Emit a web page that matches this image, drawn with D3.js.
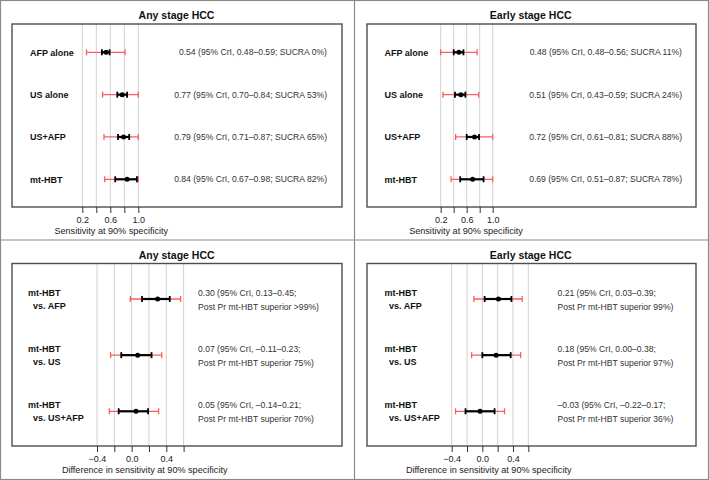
<!DOCTYPE html>
<html><head><meta charset="utf-8">
<script src="https://cdn.jsdelivr.net/npm/d3@7"></script>
<style>
html,body{margin:0;padding:0;background:#fff;}
svg text{font-family:"Liberation Sans",Arial,sans-serif;}
</style></head>
<body><svg id="c" width="709" height="480"></svg>
<script>
// ---------- DATA ----------
const topCategories = ["AFP alone", "US alone", "US+AFP", "mt-HBT"];
const anyEst   = [0.54, 0.77, 0.79, 0.84];
const anyCrLo  = [0.48, 0.70, 0.71, 0.67];
const anyCrHi  = [0.59, 0.84, 0.87, 0.98];
const anyPiLo  = [0.26, 0.49, 0.51, 0.52];
const anyPiHi  = [0.81, 1.00, 1.00, 1.00];
const anyText  = [
  "0.54 (95% CrI, 0.48\u20130.59; SUCRA 0%)",
  "0.77 (95% CrI, 0.70\u20130.84; SUCRA 53%)",
  "0.79 (95% CrI, 0.71\u20130.87; SUCRA 65%)",
  "0.84 (95% CrI, 0.67\u20130.98; SUCRA 82%)"];

const earlyEst  = [0.48, 0.51, 0.72, 0.69];
const earlyCrLo = [0.40, 0.42, 0.60, 0.50];
const earlyCrHi = [0.55, 0.58, 0.79, 0.86];
const earlyPiLo = [0.20, 0.235, 0.43, 0.36];
const earlyPiHi = [0.76, 0.785, 1.00, 1.00];
const earlyText = [
  "0.48 (95% CrI, 0.48\u20130.56; SUCRA 11%)",
  "0.51 (95% CrI, 0.43\u20130.59; SUCRA 24%)",
  "0.72 (95% CrI, 0.61\u20130.81; SUCRA 88%)",
  "0.69 (95% CrI, 0.51\u20130.87; SUCRA 78%)"];

const diffCategories = ["vs. AFP", "vs. US", "vs. US+AFP"];
const diffLabelTop = "mt-HBT";
const anyDiffEst  = [0.30, 0.07, 0.05];
const anyDiffCrLo = [0.12, -0.12, -0.15];
const anyDiffCrHi = [0.44, 0.23, 0.19];
const anyDiffPiLo = [-0.015, -0.243, -0.258];
const anyDiffPiHi = [0.566, 0.347, 0.312];
const anyDiffText1 = ["0.30 (95% CrI, 0.13\u20130.45;", "0.07 (95% CrI, \u20130.11\u20130.23;", "0.05 (95% CrI, \u20130.14\u20130.21;"];
const anyDiffText2 = ["Post Pr mt-HBT superior >99%)", "Post Pr mt-HBT superior 75%)", "Post Pr mt-HBT superior 70%)"];

const earlyDiffEst  = [0.21, 0.18, -0.03];
const earlyDiffCrLo = [0.03, 0.00, -0.22];
const earlyDiffCrHi = [0.38, 0.37, 0.16];
const earlyDiffPiLo = [-0.11, -0.14, -0.35];
const earlyDiffPiHi = [0.52, 0.50, 0.29];
const earlyDiffText1 = ["0.21 (95% CrI, 0.03\u20130.39;", "0.18 (95% CrI, 0.00\u20130.38;", "\u20130.03 (95% CrI, \u20130.22\u20130.17;"];
const earlyDiffText2 = ["Post Pr mt-HBT superior 99%)", "Post Pr mt-HBT superior 97%)", "Post Pr mt-HBT superior 36%)"];

const topTicks = [0.2, 0.4, 0.6, 0.8, 1.0];
const topTickLabels = [0.2, 0.6, 1.0];
const diffTicks = [-0.4, -0.2, 0.0, 0.2, 0.4, 0.6];
const diffTickLabels = [-0.4, 0.0, 0.4];

const titles = ["Any stage HCC", "Early stage HCC", "Any stage HCC", "Early stage HCC"];
const axisTitles = ["Sensitivity at 90% specificity", "Difference in sensitivity at 90% specificity"];

// ---------- DRAW ----------
const svg = d3.select("#c");
const RED = "#ff5c5c";

// outer frame and dividers
svg.append("rect").attr("x",0.5).attr("y",0.5).attr("width",708).attr("height",479)
  .attr("fill","none").attr("stroke","#8a8a8a").attr("stroke-width",1.2);
svg.append("line").attr("x1",354.5).attr("x2",354.5).attr("y1",0).attr("y2",480).attr("stroke","#8a8a8a").attr("stroke-width",1.2);
svg.append("line").attr("x1",0).attr("x2",709).attr("y1",240).attr("y2",240).attr("stroke","#8a8a8a").attr("stroke-width",1.2);

function panel(cfg){
  const g = svg.append("g");
  const x = d3.scaleLinear().domain(cfg.domain).range(cfg.range);
  const y = d3.scalePoint().domain(cfg.cats).range(cfg.rowRange);
  const b = cfg.box;
  g.append("text").attr("x", cfg.titleX).attr("y", cfg.titleY).attr("text-anchor","middle")
    .attr("font-size", 10.5).attr("font-weight","bold").attr("fill","#111").text(cfg.title);
  g.selectAll("line.grid").data(cfg.ticks).join("line").attr("class","grid")
    .attr("x1", d=>x(d)).attr("x2", d=>x(d)).attr("y1", b.y0).attr("y2", b.y1)
    .attr("stroke","#d2d2d2").attr("stroke-width",1);
  g.append("rect").attr("x",b.x0).attr("y",b.y0).attr("width",b.x1-b.x0).attr("height",b.y1-b.y0)
    .attr("fill","none").attr("stroke","#4d4d4d").attr("stroke-width",1.4);
  const ax = d3.axisBottom(x).tickValues(cfg.ticks).tickSize(6).tickPadding(4)
    .tickFormat(d => cfg.labelTicks.some(v=>Math.abs(v-d)<1e-9) ? d3.format(".1f")(d) : "");
  const ag = g.append("g").attr("transform",`translate(0,${b.y1})`).call(ax);
  ag.select(".domain").remove();
  ag.selectAll(".tick line").attr("stroke","#333").attr("stroke-width",1);
  ag.selectAll(".tick text").attr("font-size",9).attr("fill","#222")
    .attr("font-family","Liberation Sans, Arial, sans-serif");
  g.append("text").attr("x", cfg.axisTitleX).attr("y", b.y1 + 26.5).attr("text-anchor","middle")
    .attr("font-size",9.1).attr("fill","#222").text(cfg.axisTitle);

  const rows = cfg.cats.map((c,i)=>({c, i}));
  const cap = 3;
  rows.forEach(({c,i})=>{
    const yy = y(c);
    const x0 = x(cfg.piLo[i]), x1 = x(cfg.piHi[i]);
    g.append("line").attr("x1",x0).attr("x2",x1).attr("y1",yy).attr("y2",yy).attr("stroke",RED).attr("stroke-width",1.3);
    [x0,x1].forEach(xx=>g.append("line").attr("x1",xx).attr("x2",xx).attr("y1",yy-cap).attr("y2",yy+cap).attr("stroke",RED).attr("stroke-width",1.3));
    const c0 = x(cfg.crLo[i]), c1 = x(cfg.crHi[i]);
    g.append("line").attr("x1",c0).attr("x2",c1).attr("y1",yy).attr("y2",yy).attr("stroke","#000").attr("stroke-width",2.2);
    [c0,c1].forEach(xx=>g.append("line").attr("x1",xx).attr("x2",xx).attr("y1",yy-cap).attr("y2",yy+cap).attr("stroke","#000").attr("stroke-width",1.8));
    g.append("circle").attr("cx",x(cfg.est[i])).attr("cy",yy).attr("r",2.5).attr("fill","#000");
  });
  cfg.drawLabels(g, y, rows);
}

function topLabels(xLabel, xText, texts){
  return (g, y, rows) => {
    rows.forEach(({c,i})=>{
      g.append("text").attr("x",xLabel).attr("y",y(c)+3.2).attr("font-size",9).attr("font-weight","bold")
        .attr("fill","#111").text(c);
      g.append("text").attr("x",xText).attr("y",y(c)+3.1).attr("text-anchor","end").attr("font-size",8.6)
        .attr("fill","#333").text(texts[i]);
    });
  };
}
function diffLabels(xL1, xL2, xText, t1, t2){
  return (g, y, rows) => {
    rows.forEach(({c,i})=>{
      const yy = y(c);
      g.append("text").attr("x",xL1).attr("y",yy-3.2).attr("font-size",9).attr("font-weight","bold").attr("fill","#111").text(diffLabelTop);
      g.append("text").attr("x",xL2).attr("y",yy+10).attr("font-size",9).attr("font-weight","bold").attr("fill","#111").text(c);
      g.append("text").attr("x",xText).attr("y",yy-3.2).attr("font-size",8.6).attr("fill","#333").text(t1[i]);
      g.append("text").attr("x",xText).attr("y",yy+10.8).attr("font-size",8.6).attr("fill","#333").text(t2[i]);
    });
  };
}

panel({title:titles[0], titleX:176.5, titleY:19, box:{x0:12,y0:24,x1:342,y1:207},
  domain:[0.2,1.0], range:[82.3,138.3], ticks:topTicks, labelTicks:topTickLabels,
  cats:topCategories, rowRange:[52.3,179.3], est:anyEst, crLo:anyCrLo, crHi:anyCrHi, piLo:anyPiLo, piHi:anyPiHi,
  axisTitle:axisTitles[0], axisTitleX:111.3, drawLabels:topLabels(30,327,anyText)});

panel({title:titles[1], titleX:530.7, titleY:19, box:{x0:367,y0:24,x1:696,y1:207},
  domain:[0.2,1.0], range:[440.7,492.7], ticks:topTicks, labelTicks:topTickLabels,
  cats:topCategories, rowRange:[52.3,179.3], est:earlyEst, crLo:earlyCrLo, crHi:earlyCrHi, piLo:earlyPiLo, piHi:earlyPiHi,
  axisTitle:axisTitles[0], axisTitleX:466, drawLabels:topLabels(384.5,682,earlyText)});

panel({title:titles[2], titleX:176.7, titleY:258.5, box:{x0:12,y0:263.5,x1:342,y1:446},
  domain:[-0.4,0.6], range:[97,183.6], ticks:diffTicks, labelTicks:diffTickLabels,
  cats:diffCategories, rowRange:[299,411.3], est:anyDiffEst, crLo:anyDiffCrLo, crHi:anyDiffCrHi, piLo:anyDiffPiLo, piHi:anyDiffPiHi,
  axisTitle:axisTitles[1], axisTitleX:144.7, drawLabels:diffLabels(28,33,198,anyDiffText1,anyDiffText2)});

panel({title:titles[3], titleX:530.7, titleY:258.5, box:{x0:367,y0:263.5,x1:696,y1:446},
  domain:[-0.4,0.6], range:[451.7,528.3], ticks:diffTicks, labelTicks:diffTickLabels,
  cats:diffCategories, rowRange:[299,411.3], est:earlyDiffEst, crLo:earlyDiffCrLo, crHi:earlyDiffCrHi, piLo:earlyDiffPiLo, piHi:earlyDiffPiHi,
  axisTitle:axisTitles[1], axisTitleX:488.7, drawLabels:diffLabels(384.5,389,557.5,earlyDiffText1,earlyDiffText2)});
</script></body></html>
